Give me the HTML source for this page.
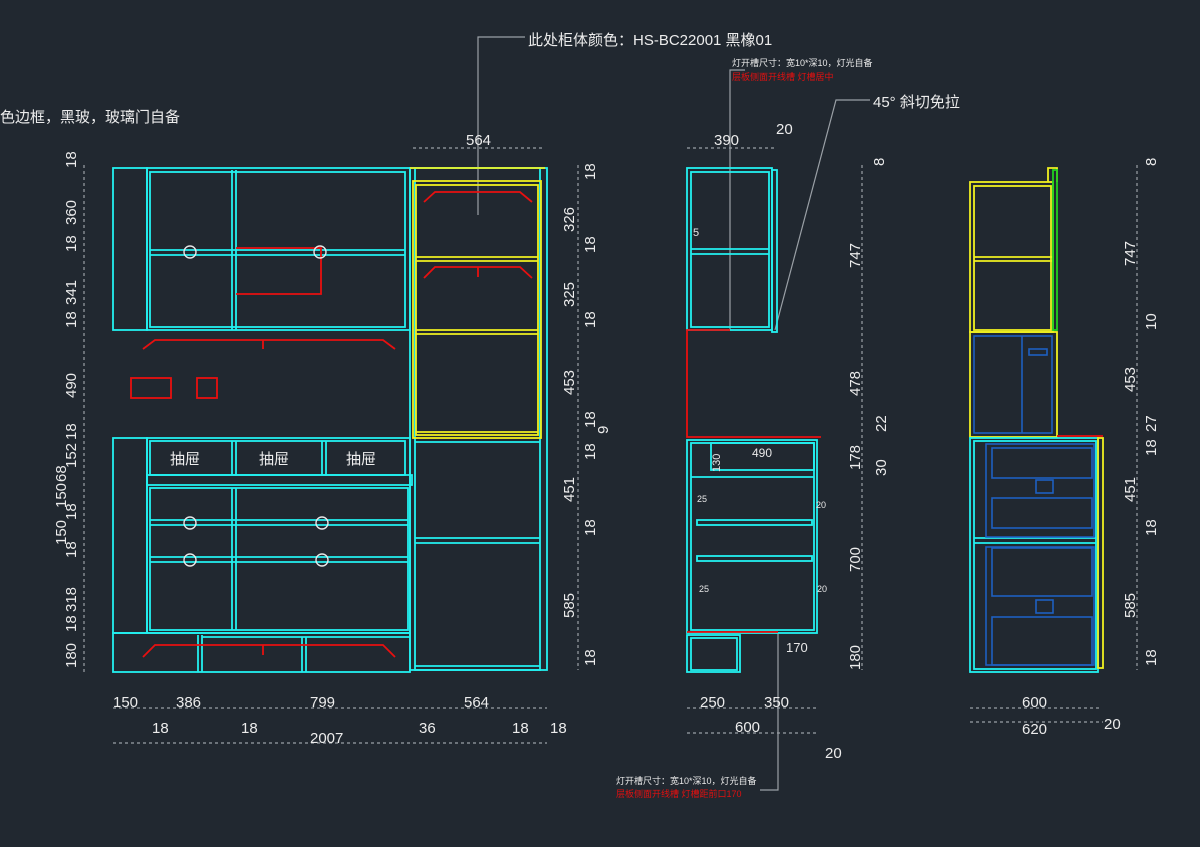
<!DOCTYPE html>
<html><head><meta charset="utf-8"><style>
html,body{margin:0;padding:0;background:#212830;}
svg{display:block}
text{font-family:"Liberation Sans","Noto Sans CJK SC",sans-serif;}
.c{fill:none;stroke:#22f0f0;stroke-width:1.8}
.y{fill:none;stroke:#f0f020;stroke-width:1.8}
.r{fill:none;stroke:#e81010;stroke-width:1.8}
.b{fill:none;stroke:#1e60c0;stroke-width:1.6}
.g{fill:none;stroke:#20d020;stroke-width:1.8}
.d{fill:none;stroke:#9aa0a6;stroke-width:1.2;stroke-dasharray:3 3}
.l{fill:none;stroke:#9aa0a6;stroke-width:1.2}
.w{fill:none;stroke:#e8e8e8;stroke-width:1.4}
.t{fill:#ececec;font-size:15px}
.tv{fill:#ececec;font-size:15px}
</style></head><body>
<svg width="1200" height="847" viewBox="0 0 1200 847">
<text x="528" y="45" class="t">此处柜体颜色：HS-BC22001 黑橡01</text>
<polyline class="l" points="478,215 478,37 525,37"/>
<text x="0" y="122" class="t">色边框，黑玻，玻璃门自备</text>
<text x="732" y="66" fill="#e8e8e8" font-size="9">灯开槽尺寸：宽10*深10，灯光自备</text>
<text x="732" y="80" fill="#e01010" font-size="9">层板侧面开线槽 灯槽居中</text>
<polyline class="l" points="730,330 730,70 745,70"/>
<text x="873" y="107" class="t">45° 斜切免拉</text>
<polyline class="l" points="775,330 836,100 870,100"/>
<text x="616" y="784" fill="#e8e8e8" font-size="9">灯开槽尺寸：宽10*深10，灯光自备</text>
<text x="616" y="797" fill="#e01010" font-size="9">层板侧面开线槽 灯槽距前口170</text>
<polyline class="l" points="778,633 778,790 760,790"/>

<rect class="c" x="113" y="168" width="34" height="162"/>
<rect class="c" x="147" y="168" width="263" height="162"/>
<rect class="c" x="150" y="172" width="255" height="155"/>
<line class="c" x1="232" y1="170" x2="232" y2="330"/><line class="c" x1="236" y1="170" x2="236" y2="330"/>
<line class="c" x1="150" y1="250" x2="405" y2="250"/><line class="c" x1="150" y1="255" x2="405" y2="255"/>
<polyline class="r" points="236,248 321,248 321,294 236,294"/>
<circle class="w" cx="190" cy="252" r="6"/><circle class="w" cx="320" cy="252" r="6"/>
<polyline class="r" points="143,349 155,340 383,340 395,349"/><line class="r" x1="263" y1="340" x2="263" y2="349"/>
<rect class="r" x="131" y="378" width="40" height="20"/><rect class="r" x="197" y="378" width="20" height="20"/>

<rect class="c" x="410" y="168" width="137" height="502"/>
<rect class="c" x="415" y="168" width="125" height="502"/>
<line class="y" x1="410" y1="168" x2="545" y2="168"/>
<rect class="y" x="413" y="181" width="128" height="257"/>
<rect class="y" x="416" y="185" width="122" height="250"/>
<line class="y" x1="416" y1="257" x2="538" y2="257"/><line class="y" x1="416" y1="261" x2="538" y2="261"/>
<line class="y" x1="416" y1="330" x2="538" y2="330"/><line class="y" x1="416" y1="334" x2="538" y2="334"/>
<line class="y" x1="416" y1="432" x2="538" y2="432"/>
<polyline class="r" points="424,202 435,192 520,192 532,202"/>
<polyline class="r" points="424,278 435,267 520,267 532,278"/><line class="r" x1="478" y1="267" x2="478" y2="277"/>
<line class="c" x1="415" y1="442" x2="540" y2="442"/>
<line class="c" x1="415" y1="538" x2="540" y2="538"/><line class="c" x1="415" y1="543" x2="540" y2="543"/>
<line class="c" x1="415" y1="666" x2="540" y2="666"/>

<rect class="c" x="113" y="438" width="34" height="195"/>
<rect class="c" x="147" y="438" width="263" height="195"/>
<rect class="c" x="150" y="441" width="255" height="34"/>
<line class="c" x1="232" y1="441" x2="232" y2="475"/><line class="c" x1="236" y1="441" x2="236" y2="475"/>
<line class="c" x1="322" y1="441" x2="322" y2="475"/><line class="c" x1="326" y1="441" x2="326" y2="475"/>
<text x="170" y="464" class="t" font-size="17">抽屉</text><text x="259" y="464" class="t" font-size="17">抽屉</text><text x="346" y="464" class="t" font-size="17">抽屉</text>
<rect class="c" x="147" y="475" width="265" height="10"/>
<rect class="c" x="150" y="488" width="258" height="142"/>
<line class="c" x1="232" y1="488" x2="232" y2="630"/><line class="c" x1="236" y1="488" x2="236" y2="630"/>
<line class="c" x1="150" y1="520" x2="408" y2="520"/><line class="c" x1="150" y1="525" x2="408" y2="525"/>
<line class="c" x1="150" y1="557" x2="408" y2="557"/><line class="c" x1="150" y1="562" x2="408" y2="562"/>
<circle class="w" cx="190" cy="523" r="6"/><circle class="w" cx="322" cy="523" r="6"/>
<circle class="w" cx="190" cy="560" r="6"/><circle class="w" cx="322" cy="560" r="6"/>
<rect class="c" x="113" y="633" width="297" height="39"/>
<line class="c" x1="198" y1="635" x2="198" y2="672"/><line class="c" x1="202" y1="635" x2="202" y2="672"/>
<line class="c" x1="302" y1="637" x2="302" y2="672"/><line class="c" x1="306" y1="637" x2="306" y2="672"/>
<line class="c" x1="202" y1="637" x2="410" y2="637"/>
<polyline class="r" points="143,657 155,645 383,645 395,657"/><line class="r" x1="263" y1="645" x2="263" y2="655"/>

<line class="d" x1="84" y1="165" x2="84" y2="672"/>
<g class="tv">
<text transform="translate(76,168) rotate(-90)">18</text>
<text transform="translate(76,225) rotate(-90)">360</text>
<text transform="translate(76,252) rotate(-90)">18</text>
<text transform="translate(76,305) rotate(-90)">341</text>
<text transform="translate(76,328) rotate(-90)">18</text>
<text transform="translate(76,398) rotate(-90)">490</text>
<text transform="translate(76,440) rotate(-90)">18</text>
<text transform="translate(76,468) rotate(-90)">152</text>
<text transform="translate(66,482) rotate(-90)">68</text>
<text transform="translate(76,520) rotate(-90)">18</text>
<text transform="translate(66,508) rotate(-90)">150</text>
<text transform="translate(76,558) rotate(-90)">18</text>
<text transform="translate(66,545) rotate(-90)">150</text>
<text transform="translate(76,612) rotate(-90)">318</text>
<text transform="translate(76,632) rotate(-90)">18</text>
<text transform="translate(76,668) rotate(-90)">180</text>
</g>
<line class="d" x1="578" y1="165" x2="578" y2="670"/>
<g class="tv">
<text transform="translate(595,180) rotate(-90)">18</text>
<text transform="translate(574,232) rotate(-90)">326</text>
<text transform="translate(595,253) rotate(-90)">18</text>
<text transform="translate(574,307) rotate(-90)">325</text>
<text transform="translate(595,328) rotate(-90)">18</text>
<text transform="translate(574,395) rotate(-90)">453</text>
<text transform="translate(595,428) rotate(-90)">18</text>
<text transform="translate(608,434) rotate(-90)">9</text>
<text transform="translate(595,460) rotate(-90)">18</text>
<text transform="translate(574,502) rotate(-90)">451</text>
<text transform="translate(595,536) rotate(-90)">18</text>
<text transform="translate(574,618) rotate(-90)">585</text>
<text transform="translate(595,666) rotate(-90)">18</text>
</g>
<line class="d" x1="413" y1="148" x2="543" y2="148"/><text x="466" y="145" class="t">564</text>
<line class="d" x1="113" y1="708" x2="547" y2="708"/>
<text x="113" y="707" class="t">150</text><text x="176" y="707" class="t">386</text><text x="310" y="707" class="t">799</text><text x="464" y="707" class="t">564</text>
<text x="152" y="733" class="t">18</text><text x="241" y="733" class="t">18</text><text x="419" y="733" class="t">36</text><text x="512" y="733" class="t">18</text><text x="550" y="733" class="t">18</text>
<line class="d" x1="113" y1="743" x2="547" y2="743"/><text x="310" y="743" class="t">2007</text>

<rect class="c" x="687" y="168" width="85" height="162"/>
<rect class="c" x="691" y="172" width="78" height="155"/>
<rect class="c" x="772" y="170" width="5" height="162"/>
<line class="c" x1="691" y1="249" x2="769" y2="249"/><line class="c" x1="691" y1="254" x2="769" y2="254"/>
<text x="693" y="236" fill="#e8e8e8" font-size="11">5</text>
<polyline class="r" points="730,330 687,330 687,437 821,437"/>
<rect class="c" x="687" y="440" width="130" height="193"/>
<rect class="c" x="691" y="443" width="123" height="187"/>
<rect class="c" x="711" y="443" width="103" height="27"/>
<line class="c" x1="691" y1="477" x2="814" y2="477"/>
<rect class="c" x="697" y="520" width="115" height="5"/><rect class="c" x="697" y="556" width="115" height="5"/>
<text x="752" y="457" fill="#e8e8e8" font-size="12">490</text>
<text transform="translate(720,472) rotate(-90)" fill="#e8e8e8" font-size="11">130</text>
<text x="697" y="502" fill="#e8e8e8" font-size="9">25</text><text x="699" y="592" fill="#e8e8e8" font-size="9">25</text>
<text x="816" y="508" fill="#e8e8e8" font-size="9">20</text><text x="817" y="592" fill="#e8e8e8" font-size="9">20</text>
<line class="r" x1="687" y1="632" x2="778" y2="632"/>
<rect class="c" x="687" y="635" width="53" height="37"/><rect class="c" x="691" y="638" width="46" height="32"/>
<text x="786" y="652" fill="#e8e8e8" font-size="13">170</text>
<line class="d" x1="862" y1="165" x2="862" y2="670"/>
<g class="tv">
<text transform="translate(884,166) rotate(-90)">8</text>
<text transform="translate(860,268) rotate(-90)">747</text>
<text transform="translate(860,396) rotate(-90)">478</text>
<text transform="translate(886,432) rotate(-90)">22</text>
<text transform="translate(860,470) rotate(-90)">178</text>
<text transform="translate(886,476) rotate(-90)">30</text>
<text transform="translate(860,572) rotate(-90)">700</text>
<text transform="translate(860,670) rotate(-90)">180</text>
</g>
<line class="d" x1="687" y1="148" x2="777" y2="148"/><text x="714" y="145" class="t">390</text><text x="776" y="134" class="t">20</text>
<line class="d" x1="687" y1="708" x2="818" y2="708"/><text x="700" y="707" class="t">250</text><text x="764" y="707" class="t">350</text>
<line class="d" x1="687" y1="733" x2="818" y2="733"/><text x="735" y="732" class="t">600</text><text x="825" y="758" class="t">20</text>

<rect class="y" x="970" y="182" width="83" height="150"/>
<rect class="y" x="974" y="186" width="77" height="144"/>
<line class="y" x1="974" y1="257" x2="1053" y2="257"/><line class="y" x1="974" y1="261" x2="1053" y2="261"/>
<polyline class="y" points="1048,182 1048,168 1057,168 1057,182"/>
<rect class="g" x="1053" y="170" width="4" height="160"/>
<rect class="y" x="970" y="332" width="87" height="105"/>
<rect class="b" x="974" y="336" width="78" height="97"/>
<line class="b" x1="1022" y1="336" x2="1022" y2="433"/>
<rect class="b" x="1029" y="349" width="18" height="6"/>
<line class="r" x1="1057" y1="436" x2="1103" y2="436"/>
<rect class="c" x="970" y="438" width="128" height="234"/>
<rect class="c" x="974" y="441" width="122" height="228"/>
<line class="c" x1="974" y1="538" x2="1096" y2="538"/><line class="c" x1="974" y1="543" x2="1096" y2="543"/>
<rect class="y" x="1098" y="438" width="5" height="230"/>
<rect class="b" x="986" y="444" width="108" height="93"/>
<rect class="b" x="992" y="448" width="100" height="30"/><rect class="b" x="992" y="498" width="100" height="30"/>
<rect class="b" x="1036" y="480" width="17" height="13"/>
<rect class="b" x="986" y="547" width="108" height="118"/>
<rect class="b" x="992" y="548" width="100" height="48"/><rect class="b" x="992" y="617" width="100" height="48"/>
<rect class="b" x="1036" y="600" width="17" height="13"/>
<line class="d" x1="1137" y1="165" x2="1137" y2="670"/>
<g class="tv">
<text transform="translate(1156,166) rotate(-90)">8</text>
<text transform="translate(1135,266) rotate(-90)">747</text>
<text transform="translate(1156,330) rotate(-90)">10</text>
<text transform="translate(1135,392) rotate(-90)">453</text>
<text transform="translate(1156,432) rotate(-90)">27</text>
<text transform="translate(1156,456) rotate(-90)">18</text>
<text transform="translate(1135,502) rotate(-90)">451</text>
<text transform="translate(1156,536) rotate(-90)">18</text>
<text transform="translate(1135,618) rotate(-90)">585</text>
<text transform="translate(1156,666) rotate(-90)">18</text>
</g>
<line class="d" x1="970" y1="708" x2="1100" y2="708"/><text x="1022" y="707" class="t">600</text>
<line class="d" x1="970" y1="722" x2="1103" y2="722"/><text x="1022" y="734" class="t">620</text><text x="1104" y="729" class="t">20</text>
</svg>
</body></html>
